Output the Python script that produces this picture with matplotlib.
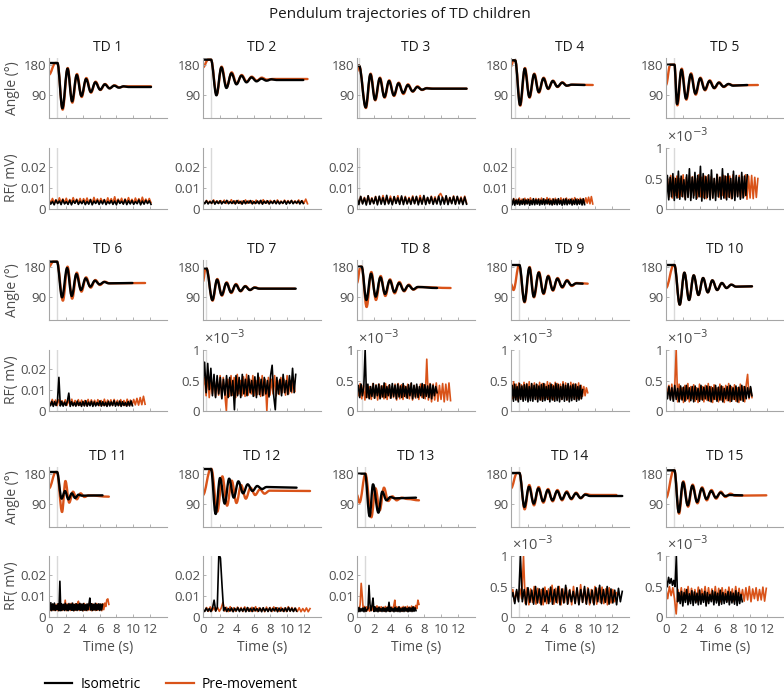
import numpy as np
import matplotlib.pyplot as plt
from matplotlib.lines import Line2D
from matplotlib.path import Path
from matplotlib.patches import PathPatch

plt.rcParams['font.family'] = ['Open Sans', 'DejaVu Sans']

# angle trajectories (deg): isometric (iso) and pre-movement (pre), turning points
TD1_ISO_T = [0, 1.0, 1.59, 2.2, 2.74, 3.29, 3.85, 4.4, 4.96, 5.5, 6.07, 6.62, 7.18, 7.73, 8.3, 8.85, 9.4, 12.1]
TD1_ISO_A = [185, 185, 49, 168, 70, 149, 86, 137, 98, 127, 105, 121, 109, 117, 111, 115, 113, 113]
TD1_PRE_T = [0, 0.75, 1.0, 1.62, 2.22, 2.77, 3.32, 3.88, 4.43, 4.99, 5.53, 6.1, 6.65, 7.21, 7.76, 8.33, 9.0, 12.1]
TD1_PRE_A = [150, 185, 185, 45, 170, 66, 152, 83, 140, 96, 129, 104, 122, 109, 118, 112, 115, 115]

TD2_ISO_T = [0, 0.95, 1.59, 2.18, 2.78, 3.37, 3.97, 4.56, 5.16, 5.75, 6.35, 6.94, 7.54, 8.13, 8.7, 11.9]
TD2_ISO_A = [195, 195, 88, 172, 110, 154, 121, 147, 127, 142, 130, 138, 132, 136, 134, 134]
TD2_PRE_T = [0, 0.6, 0.95, 1.62, 2.21, 2.81, 3.4, 4.0, 4.59, 5.19, 5.78, 6.38, 6.97, 7.57, 8.2, 12.4]
TD2_PRE_A = [172, 195, 195, 90, 174, 112, 157, 123, 149, 129, 144, 132, 141, 135, 137, 137]

TD3_ISO_T = [0, 0.25, 1.03, 1.59, 2.14, 2.7, 3.25, 3.8, 4.37, 4.92, 5.48, 6.03, 6.6, 7.15, 7.7, 8.25, 8.8, 13.0]
TD3_ISO_A = [177, 177, 52, 151, 75, 139, 83, 131, 88, 124, 95, 119, 100, 113, 105, 109, 108, 108]
TD3_PRE_T = [0, 0.25, 1.06, 1.62, 2.17, 2.73, 3.28, 3.83, 4.4, 4.95, 5.51, 6.06, 6.63, 7.18, 7.73, 8.3, 9.0, 13.0]
TD3_PRE_A = [160, 177, 50, 153, 73, 141, 81, 133, 86, 126, 92, 121, 99, 115, 104, 110, 108, 108]

TD4_ISO_T = [0, 0.5, 1.07, 1.63, 2.18, 2.74, 3.29, 3.85, 4.4, 4.96, 5.5, 6.07, 6.6, 7.2, 8.73]
TD4_ISO_A = [193, 193, 59, 168, 83, 151, 98, 139, 108, 131, 114, 126, 117, 120, 119]
TD4_PRE_T = [0, 0.3, 0.5, 1.1, 1.66, 2.21, 2.77, 3.32, 3.88, 4.43, 4.99, 5.53, 6.1, 6.65, 7.3, 9.7]
TD4_PRE_A = [175, 193, 193, 57, 170, 81, 153, 96, 141, 107, 132, 113, 127, 117, 120, 119]

TD5_ISO_T = [0, 1.0, 1.31, 1.83, 2.38, 2.94, 3.49, 4.05, 4.6, 5.16, 5.71, 6.27, 6.83, 7.4, 7.95, 9.64]
TD5_ISO_A = [180, 180, 62, 165, 78, 151, 93, 139, 105, 131, 110, 126, 114, 122, 117, 119]
TD5_PRE_T = [0, 0.5, 1.0, 1.35, 1.87, 2.42, 2.98, 3.53, 4.09, 4.64, 5.2, 5.75, 6.31, 6.87, 7.45, 8.0, 10.9]
TD5_PRE_A = [119, 180, 180, 58, 168, 75, 154, 90, 141, 103, 133, 109, 127, 113, 122, 118, 119]

TD6_ISO_T = [0, 0.95, 1.55, 2.15, 2.7, 3.25, 3.8, 4.35, 4.9, 5.45, 6.0, 6.55, 7.1, 9.9]
TD6_ISO_A = [195, 195, 88, 176, 92, 158, 110, 145, 120, 138, 127, 134, 130, 131]
TD6_PRE_T = [0, 0.5, 0.95, 1.65, 2.2, 2.75, 3.3, 3.85, 4.4, 4.95, 5.5, 6.05, 6.6, 7.2, 11.4]
TD6_PRE_A = [180, 195, 195, 78, 180, 84, 162, 105, 148, 117, 140, 125, 135, 130, 131]

TD7_ISO_T = [0, 0.4, 1.11, 1.67, 2.22, 2.78, 3.33, 3.89, 4.44, 5.0, 5.56, 6.1, 6.7, 11.0]
TD7_ISO_A = [175, 175, 80, 141, 95, 131, 103, 126, 107, 121, 110, 117, 114, 114]
TD7_PRE_T = [0, 0.3, 0.4, 1.14, 1.7, 2.25, 2.81, 3.36, 3.92, 4.47, 5.03, 5.6, 6.15, 6.75, 10.9]
TD7_PRE_A = [136, 175, 175, 78, 143, 93, 133, 101, 128, 106, 122, 110, 118, 114, 114]

TD8_ISO_T = [0, 0.55, 1.11, 1.67, 2.22, 2.78, 3.33, 3.89, 4.44, 5.0, 5.56, 6.1, 6.67, 7.2, 9.5]
TD8_ISO_A = [180, 180, 80, 159, 90, 148, 98, 139, 104, 131, 108, 124, 112, 119, 116]
TD8_PRE_T = [0, 0.4, 0.55, 1.14, 1.7, 2.25, 2.81, 3.36, 3.92, 4.47, 5.03, 5.6, 6.15, 6.7, 7.3, 11.1]
TD8_PRE_A = [131, 180, 180, 59, 164, 80, 152, 92, 142, 100, 134, 106, 126, 111, 119, 116]

TD9_ISO_T = [0, 1.0, 1.59, 2.18, 2.7, 3.29, 3.85, 4.4, 4.96, 5.5, 6.07, 6.63, 7.18, 7.75, 8.5]
TD9_ISO_A = [185, 185, 75, 177, 90, 162, 100, 151, 110, 144, 119, 138, 124, 130, 129]
TD9_PRE_T = [0, 0.3, 0.95, 1.62, 2.21, 2.73, 3.32, 3.88, 4.43, 4.99, 5.53, 6.1, 6.66, 7.21, 7.8, 9.1]
TD9_PRE_A = [128, 110, 185, 73, 179, 88, 164, 98, 153, 108, 146, 117, 140, 122, 131, 129]

TD10_ISO_T = [0, 1.0, 1.63, 2.18, 2.74, 3.29, 3.85, 4.4, 4.96, 5.5, 6.07, 6.63, 7.18, 7.75, 8.3, 10.2]
TD10_ISO_A = [185, 185, 66, 162, 80, 154, 95, 146, 103, 139, 110, 131, 116, 126, 120, 121]
TD10_PRE_T = [0, 0.9, 1.0, 1.63, 2.18, 2.74, 3.29, 3.85, 4.4, 4.96, 5.5, 6.07, 6.63, 7.18, 7.75, 8.3, 10.2]
TD10_PRE_A = [116, 185, 185, 66, 162, 80, 154, 95, 146, 103, 139, 110, 131, 116, 126, 120, 121]

TD11_ISO_T = [0, 0.95, 1.5, 1.9, 2.3, 2.7, 3.1, 3.5, 3.9, 6.35]
TD11_ISO_A = [185, 185, 105, 128, 103, 121, 107, 117, 114, 115]
TD11_PRE_T = [0, 0.8, 0.95, 1.55, 1.95, 2.4, 2.85, 3.3, 3.75, 4.2, 4.7, 7.1]
TD11_PRE_A = [136, 185, 185, 65, 158, 93, 126, 103, 121, 110, 115, 111]

TD12_ISO_T = [0, 0.95, 1.5, 2.02, 2.58, 3.1, 3.65, 4.2, 4.76, 5.3, 5.87, 6.43, 7.0, 7.55, 11.1]
TD12_ISO_A = [194, 194, 59, 167, 90, 165, 108, 157, 121, 148, 128, 143, 134, 140, 138]
TD12_PRE_T = [0, 0.9, 1.0, 1.7, 2.3, 2.86, 3.41, 3.97, 4.52, 5.08, 5.63, 6.19, 6.75, 7.3, 7.9, 12.7]
TD12_PRE_A = [116, 194, 194, 66, 172, 84, 159, 92, 146, 105, 138, 116, 133, 120, 129, 128]

TD13_ISO_T = [0, 0.95, 1.5, 1.9, 2.54, 3.0, 3.5, 3.97, 4.5, 7.0]
TD13_ISO_A = [180, 180, 52, 148, 63, 126, 100, 110, 106, 108]
TD13_PRE_T = [0, 0.3, 1.0, 1.7, 2.2, 2.7, 3.2, 3.7, 4.2, 4.7, 5.3, 6.0, 7.35]
TD13_PRE_A = [116, 93, 180, 49, 136, 70, 138, 98, 112, 100, 108, 104, 100]

TD14_ISO_T = [0, 1.0, 1.59, 2.14, 2.7, 3.25, 3.81, 4.37, 4.92, 5.48, 6.03, 6.59, 7.14, 7.7, 8.25, 8.8, 9.4, 13.2]
TD14_ISO_A = [182, 182, 80, 141, 90, 136, 97, 131, 100, 128, 103, 124, 105, 121, 107, 117, 113, 113]
TD14_PRE_T = [0, 0.7, 1.0, 1.62, 2.17, 2.73, 3.28, 3.84, 4.4, 4.95, 5.51, 6.06, 6.62, 7.17, 7.73, 8.28, 8.85, 9.5, 12.5]
TD14_PRE_A = [136, 182, 182, 73, 146, 85, 140, 93, 134, 97, 131, 100, 127, 103, 123, 106, 119, 116, 116]

TD15_ISO_T = [0, 1.0, 1.51, 2.02, 2.58, 3.13, 3.69, 4.25, 4.8, 5.36, 5.91, 6.47, 7.0, 7.6, 9.05]
TD15_ISO_A = [190, 190, 64, 154, 85, 144, 95, 136, 104, 128, 108, 123, 113, 116, 115]
TD15_PRE_T = [0, 0.9, 1.0, 1.55, 2.06, 2.62, 3.17, 3.73, 4.29, 4.84, 5.4, 5.95, 6.51, 7.05, 7.65, 8.2, 11.9]
TD15_PRE_A = [107, 190, 190, 60, 157, 81, 147, 91, 139, 100, 131, 105, 126, 110, 120, 114, 115]

# RF signal in microvolts (1e-3 mV), evenly spaced over each trial
TD1_ISO_RF = [4.0, 2.3, 3.6, 2.0, 4.2, 2.6, 3.8, 2.1, 4.4, 2.4,
              3.5, 2.2, 4.1, 2.0, 3.9, 2.7, 4.3, 2.2, 3.7, 2.5,
              4.0, 2.1, 3.6, 2.3, 4.4, 2.0, 3.8, 2.6, 4.1, 2.2,
              3.9, 2.4, 4.3, 2.1, 3.6, 2.5, 4.0, 2.2, 3.8, 2.0,
              4.2, 2.6, 3.7, 2.3, 4.4, 2.1, 3.9, 2.4, 4.0, 2.2,
              3.6, 2.5, 4.3, 2.0, 3.8, 2.3, 4.1, 2.6, 3.9, 2.2]
TD1_PRE_RF = [4.6, 2.8, 5.0, 3.0, 4.4, 2.7, 5.3, 3.1, 4.8, 2.9,
              5.1, 2.6, 4.5, 3.2, 5.4, 2.8, 4.7, 3.0, 5.0, 2.7,
              4.9, 3.1, 5.2, 2.9, 4.6, 2.6, 5.5, 3.0, 4.8, 2.8,
              5.0, 3.2, 4.5, 2.7, 5.3, 3.0, 4.9, 2.9, 5.8, 2.8,
              4.7, 3.1, 5.1, 2.6, 4.8, 3.0, 5.4, 2.9, 4.6, 2.7,
              5.2, 3.0, 4.9, 2.8, 5.6, 3.1, 4.7, 2.9, 5.0, 3.0]
TD2_ISO_RF = [3.6, 2.5, 3.9, 2.4, 3.5, 2.7, 4.0, 2.3, 3.7, 2.6,
              3.9, 2.4, 3.6, 2.8, 4.1, 2.5, 3.5, 2.6, 3.8, 2.4,
              4.0, 2.7, 3.6, 2.3, 3.9, 2.5, 3.7, 2.8, 4.0, 2.4,
              3.5, 2.6, 3.8, 2.5, 4.1, 2.3, 3.7, 2.7, 3.9, 2.4,
              3.6, 2.6, 4.0, 2.5, 3.8, 2.4, 3.5, 2.7, 3.9, 2.3,
              3.7, 2.6, 4.0, 2.5, 3.6, 2.8, 3.8, 2.4, 3.9, 2.6]
TD2_PRE_RF = [3.2, 2.7, 4.1, 2.8, 3.8, 2.6, 4.3, 2.9, 3.9, 2.7,
              4.0, 2.8, 4.2, 2.6, 3.8, 2.9, 4.4, 2.7, 3.9, 2.8,
              4.1, 2.6, 3.8, 2.9, 4.3, 2.7, 4.0, 2.8, 3.9, 2.6,
              4.2, 2.9, 3.8, 2.7, 4.4, 2.8, 4.0, 2.6, 4.1, 2.9,
              3.9, 2.7, 4.3, 2.8, 3.8, 2.6, 4.2, 2.9, 4.0, 2.7,
              4.1, 2.8, 3.9, 2.6, 4.3, 2.9, 4.0, 2.7, 4.7, 2.5]
TD3_ISO_RF = [5.5, 2.1, 6.0, 2.4, 5.2, 1.9, 6.3, 2.2, 5.0, 2.5,
              5.8, 2.0, 6.1, 2.3, 5.4, 2.1, 6.5, 2.4, 5.1, 2.0,
              5.9, 2.6, 5.3, 2.2, 6.2, 2.1, 5.6, 2.4, 5.0, 2.2,
              5.7, 2.5, 6.0, 2.0, 5.3, 2.3, 6.4, 2.1, 5.5, 2.6,
              5.8, 2.2, 5.1, 2.4, 6.1, 2.0, 5.6, 2.3, 6.3, 2.1,
              5.4, 2.5, 5.9, 2.2, 6.0, 2.4, 5.2, 2.1, 5.7, 2.3]
TD3_PRE_RF = [4.8, 2.6, 5.9, 2.8, 5.5, 2.5, 6.2, 2.9, 5.3, 2.7,
              6.0, 2.6, 5.7, 3.0, 6.4, 2.7, 5.4, 2.8, 6.1, 2.6,
              5.8, 2.9, 6.3, 2.7, 5.6, 2.8, 6.0, 2.6, 5.5, 2.9,
              6.2, 2.7, 5.7, 2.8, 6.4, 2.6, 5.9, 3.0, 5.4, 2.7,
              6.1, 2.8, 5.8, 2.6, 6.3, 7.4, 5.6, 2.9, 6.0, 2.7,
              5.5, 2.8, 6.2, 2.6, 5.9, 2.9, 5.7, 2.7, 6.1, 2.8]
TD4_ISO_RF = [4.5, 2.0, 4.8, 1.8, 4.2, 2.3, 4.6, 1.9, 4.0, 2.2,
              4.7, 2.0, 4.3, 2.4, 4.5, 1.8, 4.1, 2.1, 4.9, 2.0,
              4.4, 2.3, 4.6, 1.9, 4.2, 2.2, 4.8, 2.0, 4.3, 2.4,
              4.6, 2.1, 4.0, 1.9, 4.7, 2.2, 4.4, 2.0, 4.9, 2.3,
              4.1, 1.8, 4.5, 2.1, 4.8, 2.0, 4.3, 2.4, 4.6, 1.9,
              4.2, 2.2, 4.7, 2.0, 4.4, 2.3, 4.5, 1.9, 4.8, 2.1]
TD4_PRE_RF = [3.8, 2.6, 5.0, 2.8, 4.6, 2.5, 5.2, 2.9, 4.7, 2.7,
              5.1, 2.6, 4.8, 2.9, 5.3, 2.7, 4.6, 2.8, 5.0, 2.6,
              4.9, 2.8, 5.2, 2.7, 4.7, 2.9, 5.4, 2.6, 5.0, 2.8,
              4.8, 2.5, 5.1, 2.9, 4.6, 2.7, 5.3, 2.6, 4.9, 2.8,
              5.2, 2.7, 4.7, 2.9, 5.0, 2.6, 5.4, 2.8, 4.8, 2.7,
              5.1, 2.9, 4.9, 2.6, 5.3, 2.8, 5.6, 2.5, 5.9, 2.4]
TD5_ISO_RF = [0.10, 0.55, 0.15, 0.52, 0.20, 0.58, 0.14, 0.50, 0.18, 0.62,
              0.16, 0.54, 0.20, 0.48, 0.15, 0.56, 0.19, 0.66, 0.14, 0.52,
              0.18, 0.60, 0.16, 0.55, 0.20, 0.70, 0.13, 0.58, 0.17, 0.53,
              0.19, 0.56, 0.15, 0.64, 0.18, 0.50, 0.14, 0.57, 0.20, 0.52,
              0.16, 0.66, 0.18, 0.54, 0.15, 0.58, 0.19, 0.50, 0.17, 0.62,
              0.14, 0.55, 0.20, 0.52, 0.16, 0.60, 0.18, 0.54, 0.22, 0.56]
TD5_PRE_RF = [0.30, 0.50, 0.20, 0.55, 0.18, 0.52, 0.22, 0.54, 0.19, 0.50,
              0.21, 0.56, 0.18, 0.52, 0.20, 0.55, 0.19, 0.53, 0.22, 0.50,
              0.18, 0.56, 0.20, 0.52, 0.19, 0.54, 0.17, 0.55, 0.20, 0.53,
              0.18, 0.50, 0.21, 0.56, 0.19, 0.52, 0.22, 0.55, 0.18, 0.53,
              0.20, 0.54, 0.17, 0.56, 0.19, 0.52, 0.21, 0.55, 0.18, 0.53,
              0.20, 0.56, 0.16, 0.54, 0.18, 0.55, 0.17, 0.52, 0.19, 0.50]
TD6_ISO_RF = [4.0, 2.5, 4.6, 2.2, 4.4, 2.6, 4.8, 16.0, 2.4, 4.5,
              2.3, 4.2, 2.6, 4.7, 8.5, 2.2, 4.4, 2.5, 4.0, 2.3,
              4.7, 2.6, 4.1, 2.2, 4.5, 2.4, 4.9, 2.3, 4.2, 2.5,
              4.6, 2.2, 4.3, 2.4, 4.0, 2.6, 4.8, 2.3, 4.4, 2.5,
              4.1, 2.2, 4.6, 2.4, 4.3, 2.6, 4.9, 2.3, 4.2, 2.5,
              4.7, 2.2, 4.4, 2.6, 4.0, 2.3, 4.5, 2.4, 4.8, 2.5]
TD6_PRE_RF = [5.0, 2.7, 5.5, 2.9, 5.2, 2.6, 5.4, 3.0, 4.9, 2.8,
              5.3, 2.7, 5.1, 2.9, 5.6, 2.6, 5.0, 2.8, 5.4, 2.7,
              5.2, 2.9, 5.0, 2.6, 5.5, 2.8, 5.3, 2.7, 5.1, 2.9,
              5.4, 2.6, 5.0, 2.8, 5.6, 2.7, 5.2, 2.9, 5.3, 2.6,
              5.5, 2.8, 5.1, 2.7, 5.4, 2.9, 5.0, 2.6, 5.6, 2.8,
              5.2, 2.7, 5.5, 2.9, 6.0, 2.8, 6.4, 3.0, 7.0, 3.2]
TD7_ISO_RF = [0.45, 0.80, 0.30, 0.78, 0.35, 0.70, 0.25, 0.60, 0.22, 0.58,
              0.28, 0.55, 0.20, 0.52, 0.26, 0.58, 0.22, 0.55, 0.25, 0.50,
              0.02, 0.58, 0.25, 0.55, 0.22, 0.60, 0.28, 0.52, 0.25, 0.58,
              0.30, 0.50, 0.24, 0.56, 0.22, 0.62, 0.27, 0.52, 0.25, 0.55,
              0.28, 0.50, 0.23, 0.58, 0.75, 0.25, 0.02, 0.55, 0.28, 0.52,
              0.25, 0.60, 0.30, 0.50, 0.27, 0.58, 0.32, 0.70, 0.30, 0.60]
TD7_PRE_RF = [0.40, 0.55, 0.25, 0.60, 0.22, 0.50, 0.28, 0.55, 0.24, 0.52,
              0.26, 0.58, 0.22, 0.55, 0.28, 0.00, 0.52, 0.24, 0.58, 0.26,
              0.55, 0.22, 0.60, 0.28, 0.50, 0.25, 0.56, 0.24, 0.60, 0.26,
              0.52, 0.28, 0.58, 0.25, 0.50, 0.27, 0.55, 0.24, 0.58, 0.26,
              0.52, 0.00, 0.55, 0.26, 0.52, 0.28, 0.58, 0.25, 0.50, 0.27,
              0.55, 0.30, 0.52, 0.26, 0.58, 0.28, 0.50, 0.30, 0.55, 0.32]
TD8_ISO_RF = [0.30, 0.42, 0.22, 0.44, 0.25, 0.40, 1.00, 0.22, 0.44, 0.20,
              0.40, 0.24, 0.45, 0.21, 0.42, 0.25, 0.44, 0.20, 0.41, 0.23,
              0.46, 0.22, 0.40, 0.25, 0.43, 0.21, 0.45, 0.24, 0.42, 0.20,
              0.44, 0.23, 0.41, 0.22, 0.45, 0.24, 0.40, 0.21, 0.43, 0.25,
              0.46, 0.20, 0.42, 0.23, 0.44, 0.22, 0.40, 0.25, 0.45, 0.21,
              0.43, 0.24, 0.41, 0.22, 0.44, 0.20, 0.42, 0.25, 0.40, 0.30]
TD8_PRE_RF = [0.35, 0.25, 0.45, 0.20, 0.42, 0.18, 0.44, 0.22, 0.40, 0.19,
              0.45, 0.21, 0.43, 0.18, 0.44, 0.22, 0.41, 0.20, 0.45, 0.19,
              0.42, 0.21, 0.40, 0.22, 0.44, 0.18, 0.45, 0.20, 0.43, 0.19,
              0.41, 0.22, 0.44, 0.20, 0.45, 0.18, 0.42, 0.21, 0.40, 0.19,
              0.44, 0.22, 0.43, 0.20, 0.85, 0.18, 0.45, 0.15, 0.44, 0.18,
              0.46, 0.16, 0.42, 0.19, 0.45, 0.15, 0.44, 0.18, 0.46, 0.17]
TD9_ISO_RF = [0.20, 0.42, 0.16, 0.44, 0.18, 0.40, 0.15, 0.45, 0.19, 0.41,
              0.16, 0.43, 0.18, 0.44, 0.15, 0.40, 0.17, 0.45, 0.16, 0.42,
              0.19, 0.44, 0.15, 0.41, 0.18, 0.43, 0.16, 0.45, 0.17, 0.40,
              0.19, 0.42, 0.15, 0.44, 0.18, 0.41, 0.16, 0.45, 0.17, 0.43,
              0.15, 0.40, 0.19, 0.44, 0.16, 0.42, 0.18, 0.45, 0.15, 0.41,
              0.17, 0.43, 0.19, 0.44, 0.16, 0.40, 0.18, 0.42, 0.20, 0.35]
TD9_PRE_RF = [0.45, 0.20, 0.48, 0.22, 0.44, 0.18, 0.46, 0.21, 0.43, 0.19,
              0.47, 0.22, 0.45, 0.18, 0.48, 0.20, 0.44, 0.22, 0.46, 0.19,
              0.43, 0.21, 0.47, 0.18, 0.45, 0.20, 0.44, 0.22, 0.48, 0.19,
              0.46, 0.21, 0.43, 0.18, 0.47, 0.20, 0.45, 0.22, 0.44, 0.19,
              0.48, 0.21, 0.46, 0.18, 0.43, 0.20, 0.47, 0.22, 0.45, 0.19,
              0.44, 0.21, 0.46, 0.20, 0.42, 0.24, 0.40, 0.25, 0.38, 0.30]
TD10_ISO_RF = [0.35, 0.20, 0.40, 0.18, 0.38, 0.16, 0.42, 0.19, 0.37, 0.15,
               0.41, 0.18, 0.39, 0.16, 0.42, 0.20, 0.38, 0.17, 0.40, 0.15,
               0.41, 0.19, 0.37, 0.16, 0.42, 0.18, 0.39, 0.20, 0.41, 0.17,
               0.40, 0.15, 0.38, 0.19, 0.42, 0.16, 0.39, 0.18, 0.41, 0.15,
               0.37, 0.20, 0.40, 0.17, 0.42, 0.16, 0.38, 0.19, 0.41, 0.15,
               0.39, 0.18, 0.42, 0.16, 0.40, 0.20, 0.38, 0.22, 0.40, 0.25]
TD10_PRE_RF = [0.45, 0.25, 0.42, 0.20, 0.44, 0.18, 0.40, 1.00, 0.15, 0.44,
               0.20, 0.38, 0.14, 0.42, 0.18, 0.45, 0.15, 0.40, 0.20, 0.43,
               0.16, 0.38, 0.14, 0.44, 0.19, 0.40, 0.15, 0.42, 0.18, 0.45,
               0.16, 0.40, 0.14, 0.43, 0.19, 0.38, 0.15, 0.44, 0.18, 0.40,
               0.14, 0.42, 0.17, 0.45, 0.15, 0.40, 0.19, 0.43, 0.16, 0.38,
               0.14, 0.44, 0.18, 0.40, 0.15, 0.42, 0.60, 0.20, 0.38, 0.22]
TD11_ISO_RF = [6.5, 3.2, 6.8, 3.0, 6.2, 3.4, 6.6, 3.1, 5.5, 3.5,
               6.3, 3.0, 17.0, 3.0, 6.2, 3.4, 6.0, 3.1, 6.5, 3.3,
               5.8, 3.0, 6.4, 3.5, 6.1, 3.2, 6.6, 3.0, 5.9, 3.3,
               6.3, 3.1, 6.0, 3.4, 6.5, 3.2, 6.1, 3.0, 6.4, 3.3,
               5.8, 3.1, 6.2, 3.4, 6.0, 9.0, 3.3, 6.3, 3.1, 6.0,
               3.4, 6.5, 3.2, 6.0, 3.5, 6.3, 3.1, 6.1, 3.4, 6.0]
TD11_PRE_RF = [4.0, 3.0, 5.5, 3.2, 6.0, 3.1, 5.8, 3.3, 6.1, 3.0,
               5.7, 3.2, 6.0, 3.1, 5.9, 3.3, 8.0, 3.0, 6.2, 3.2,
               5.9, 3.1, 6.5, 3.3, 6.0, 3.0, 6.3, 3.2, 5.8, 7.5,
               3.1, 6.2, 3.3, 6.0, 3.0, 6.4, 3.2, 5.9, 3.1, 6.3,
               3.4, 6.0, 3.0, 6.2, 3.3, 5.8, 3.1, 6.4, 3.2, 6.0,
               3.3, 6.1, 3.0, 6.3, 3.5, 6.6, 5.0, 8.2, 8.6, 6.0]
TD12_ISO_RF = [3.5, 2.6, 4.2, 2.8, 4.0, 2.6, 4.3, 8.0, 2.8, 4.5,
               30.0, 28.0, 15.0, 3.0, 4.5, 2.6, 4.0, 2.8, 4.3, 2.5,
               4.1, 2.9, 4.4, 2.6, 4.0, 2.8, 4.2, 2.5, 4.5, 2.7,
               4.1, 2.6, 4.3, 2.9, 4.0, 2.7, 4.2, 2.5, 4.4, 2.8,
               4.0, 2.6, 4.3, 2.7, 4.1, 2.9, 4.4, 2.5, 4.2, 2.8,
               4.0, 2.6, 4.3, 2.7, 4.5, 2.8, 4.1, 2.6, 4.2, 2.8]
TD12_PRE_RF = [3.0, 2.8, 4.5, 2.7, 4.8, 3.0, 4.4, 2.9, 4.6, 2.7,
               4.2, 7.0, 2.8, 4.6, 2.6, 4.9, 2.9, 4.4, 2.7, 4.7,
               3.0, 4.5, 2.6, 4.8, 2.9, 4.3, 2.7, 4.6, 2.8, 4.9,
               2.6, 4.4, 2.9, 4.2, 2.5, 4.7, 2.8, 4.5, 2.6, 4.8,
               2.9, 4.4, 2.7, 4.6, 2.8, 4.3, 2.6, 4.9, 2.7, 4.5,
               2.8, 4.2, 2.6, 4.4, 2.5, 4.0, 2.6, 4.3, 2.5, 4.0]
TD13_ISO_RF = [3.0, 2.5, 4.5, 2.6, 4.0, 2.8, 4.3, 2.5, 4.6, 2.7,
               3.5, 4.0, 15.0, 6.0, 3.0, 5.5, 9.0, 2.6, 4.8, 2.7,
               4.2, 2.5, 4.6, 2.8, 4.0, 2.6, 4.5, 2.7, 4.2, 2.5,
               4.4, 2.8, 7.0, 2.6, 4.5, 2.8, 4.0, 2.5, 4.6, 2.7,
               4.2, 2.6, 4.8, 2.5, 4.0, 2.7, 4.4, 2.6, 4.6, 2.8,
               4.1, 2.5, 4.5, 2.7, 4.3, 2.6, 4.8, 2.7, 4.4, 3.0]
TD13_PRE_RF = [3.0, 4.5, 2.8, 6.0, 16.0, 10.0, 3.0, 5.0, 2.8, 4.8,
               3.0, 5.2, 2.7, 4.6, 3.1, 5.0, 2.8, 4.7, 3.0, 5.3,
               2.9, 4.8, 2.8, 4.9, 3.1, 4.6, 2.7, 5.0, 3.0, 4.8,
               2.9, 5.1, 2.8, 4.7, 3.0, 5.3, 8.0, 2.9, 4.8, 2.8,
               4.9, 3.1, 4.6, 2.7, 5.0, 3.0, 4.8, 2.9, 5.1, 2.8,
               4.7, 3.0, 5.2, 2.9, 4.9, 3.2, 5.5, 4.0, 8.0, 6.0]
TD14_ISO_RF = [0.30, 0.40, 0.22, 0.45, 0.25, 1.00, 0.25, 0.45, 0.20, 0.48,
               0.24, 0.44, 0.21, 0.50, 0.23, 0.46, 0.20, 0.47, 0.25, 0.43,
               0.22, 0.49, 0.21, 0.45, 0.24, 0.50, 0.20, 0.46, 0.23, 0.52,
               0.21, 0.44, 0.25, 0.42, 0.22, 0.48, 0.20, 0.45, 0.24, 0.50,
               0.21, 0.46, 0.23, 0.44, 0.20, 0.48, 0.25, 0.52, 0.22, 0.45,
               0.24, 0.50, 0.21, 0.46, 0.23, 0.44, 0.20, 0.47, 0.25, 0.42]
TD14_PRE_RF = [0.35, 0.45, 0.25, 0.42, 0.28, 0.46, 0.30, 1.00, 0.22, 0.48,
               0.20, 0.46, 0.24, 0.50, 0.21, 0.47, 0.23, 0.45, 0.20, 0.49,
               0.22, 0.46, 0.25, 0.52, 0.21, 0.47, 0.23, 0.50, 0.20, 0.46,
               0.24, 0.48, 0.22, 0.45, 0.20, 0.50, 0.23, 0.47, 0.21, 0.53,
               0.24, 0.46, 0.22, 0.48, 0.20, 0.45, 0.23, 0.50, 0.21, 0.47,
               0.24, 0.49, 0.22, 0.46, 0.20, 0.48, 0.23, 0.45, 0.25, 0.40]
TD15_ISO_RF = [0.62, 0.50, 0.65, 0.55, 0.63, 0.52, 0.60, 0.50, 1.00, 0.25,
               0.40, 0.22, 0.42, 0.18, 0.40, 0.24, 0.45, 0.20, 0.38, 0.22,
               0.43, 0.19, 0.41, 0.23, 0.39, 0.20, 0.44, 0.21, 0.38, 0.24,
               0.42, 0.18, 0.40, 0.22, 0.37, 0.25, 0.43, 0.20, 0.41, 0.23,
               0.39, 0.19, 0.44, 0.21, 0.40, 0.22, 0.38, 0.24, 0.42, 0.20,
               0.41, 0.23, 0.39, 0.21, 0.43, 0.19, 0.40, 0.22, 0.37, 0.25]
TD15_PRE_RF = [0.45, 0.30, 0.50, 0.35, 0.48, 0.30, 0.05, 0.45, 0.28, 0.48,
               0.25, 0.46, 0.30, 0.50, 0.26, 0.47, 0.28, 0.45, 0.25, 0.49,
               0.27, 0.46, 0.30, 0.50, 0.25, 0.48, 0.28, 0.46, 0.26, 0.50,
               0.27, 0.47, 0.25, 0.48, 0.30, 0.45, 0.26, 0.49, 0.28, 0.46,
               0.25, 0.50, 0.27, 0.47, 0.29, 0.45, 0.26, 0.48, 0.28, 0.50,
               0.25, 0.46, 0.30, 0.48, 0.27, 0.45, 0.28, 0.49, 0.26, 0.47]

# time of the grey marker line per subject (s)
RELEASE = [1.0, 0.95, 0.25, 0.5, 1.0, 0.95, 0.4, 0.55, 1.0, 1.0, 0.95, 0.95, 0.95, 1.0, 1.0]
# subjects whose RF axis is shown in units of 1e-3 mV
SMALL_RF = [5, 7, 8, 9, 10, 14, 15]

ISO_T = [TD1_ISO_T, TD2_ISO_T, TD3_ISO_T, TD4_ISO_T, TD5_ISO_T, TD6_ISO_T, TD7_ISO_T, TD8_ISO_T,
         TD9_ISO_T, TD10_ISO_T, TD11_ISO_T, TD12_ISO_T, TD13_ISO_T, TD14_ISO_T, TD15_ISO_T]
ISO_A = [TD1_ISO_A, TD2_ISO_A, TD3_ISO_A, TD4_ISO_A, TD5_ISO_A, TD6_ISO_A, TD7_ISO_A, TD8_ISO_A,
         TD9_ISO_A, TD10_ISO_A, TD11_ISO_A, TD12_ISO_A, TD13_ISO_A, TD14_ISO_A, TD15_ISO_A]
PRE_T = [TD1_PRE_T, TD2_PRE_T, TD3_PRE_T, TD4_PRE_T, TD5_PRE_T, TD6_PRE_T, TD7_PRE_T, TD8_PRE_T,
         TD9_PRE_T, TD10_PRE_T, TD11_PRE_T, TD12_PRE_T, TD13_PRE_T, TD14_PRE_T, TD15_PRE_T]
PRE_A = [TD1_PRE_A, TD2_PRE_A, TD3_PRE_A, TD4_PRE_A, TD5_PRE_A, TD6_PRE_A, TD7_PRE_A, TD8_PRE_A,
         TD9_PRE_A, TD10_PRE_A, TD11_PRE_A, TD12_PRE_A, TD13_PRE_A, TD14_PRE_A, TD15_PRE_A]
ISO_RF = [TD1_ISO_RF, TD2_ISO_RF, TD3_ISO_RF, TD4_ISO_RF, TD5_ISO_RF, TD6_ISO_RF, TD7_ISO_RF, TD8_ISO_RF,
          TD9_ISO_RF, TD10_ISO_RF, TD11_ISO_RF, TD12_ISO_RF, TD13_ISO_RF, TD14_ISO_RF, TD15_ISO_RF]
PRE_RF = [TD1_PRE_RF, TD2_PRE_RF, TD3_PRE_RF, TD4_PRE_RF, TD5_PRE_RF, TD6_PRE_RF, TD7_PRE_RF, TD8_PRE_RF,
          TD9_PRE_RF, TD10_PRE_RF, TD11_PRE_RF, TD12_PRE_RF, TD13_PRE_RF, TD14_PRE_RF, TD15_PRE_RF]

ORANGE = '#D95319'
SPINE = '#a6a6a6'
TXT = '#4d4d4d'
W, H = 784, 690

# layout in pixels
COL_LEFT = [49, 203, 357, 511, 666]
AX_W = 118
ANGLE_TOP = [58, 260, 467]
RF_TOP = [148, 350, 556]


def px_rect(left, top, w, h):
    return [left / W, 1 - (top + h) / H, w / W, h / H]


def style(ax, show_x):
    for s in ['top', 'right']:
        ax.spines[s].set_visible(False)
    for s in ['left', 'bottom']:
        ax.spines[s].set_color(SPINE)
        ax.spines[s].set_linewidth(0.8)
    ax.set_xlim(0, 14)
    ax.set_xticks(range(0, 13, 2))
    ax.tick_params(direction='in', length=2.5, width=0.6, colors=SPINE,
                   labelcolor=TXT, labelsize=9.5, pad=2)
    ax.tick_params(axis='x', labelbottom=show_x, pad=4)


def swing(ax, t, a, color):
    # smooth curve through the turning points, flat at each one
    verts = [(t[0], a[0])]
    codes = [Path.MOVETO]
    for k in range(1, len(t)):
        d = t[k] - t[k - 1]
        verts += [(t[k - 1] + 0.36 * d, a[k - 1]), (t[k] - 0.36 * d, a[k]), (t[k], a[k])]
        codes += [Path.CURVE4] * 3
    ax.add_patch(PathPatch(Path(verts, codes), fill=False, edgecolor=color, lw=1.7,
                           capstyle='round', joinstyle='round'))


fig = plt.figure(figsize=(W / 100, H / 100), dpi=100)

for i in range(15):
    row, col = divmod(i, 5)
    left = COL_LEFT[col]

    ax = fig.add_axes(px_rect(left, ANGLE_TOP[row], AX_W, 60))
    style(ax, False)
    ax.axvline(RELEASE[i], color='#d9d9d9', lw=1, zorder=0)
    swing(ax, PRE_T[i], PRE_A[i], ORANGE)
    swing(ax, ISO_T[i], ISO_A[i], 'black')
    ax.set_ylim(20, 200)
    ax.set_yticks([90, 180])
    ax.set_title(f'TD {i + 1}', fontsize=10, pad=5, color='#1a1a1a')

    ax2 = fig.add_axes(px_rect(left, RF_TOP[row], AX_W, 61))
    style(ax2, row == 2)
    ax2.axvline(RELEASE[i], color='#d9d9d9', lw=1, zorder=0)
    t_iso = np.linspace(0, ISO_T[i][-1], len(ISO_RF[i]))
    t_pre = np.linspace(0, PRE_T[i][-1], len(PRE_RF[i]))
    if (i + 1) in SMALL_RF:
        ax2.plot(t_pre, PRE_RF[i], color=ORANGE, lw=1.2)
        ax2.plot(t_iso, ISO_RF[i], color='black', lw=1.2)
        ax2.set_ylim(0, 1)
        ax2.set_yticks([0, 0.5, 1])
        ax2.set_yticklabels(['0', '0.5', '1'])
        ax2.text(0.01, 1.03, '×10$^{-3}$', transform=ax2.transAxes, ha='left', va='bottom',
                 fontsize=10.5, color=TXT)
    else:
        ax2.plot(t_pre, np.array(PRE_RF[i]) / 1000, color=ORANGE, lw=1.2)
        ax2.plot(t_iso, np.array(ISO_RF[i]) / 1000, color='black', lw=1.2)
        ax2.set_ylim(0, 0.029)
        ax2.set_yticks([0, 0.01, 0.02])
        ax2.set_yticklabels(['0', '0.01', '0.02'])
    if row == 2:
        ax2.set_xlabel('Time (s)', fontsize=10, color=TXT, labelpad=3)

for row in range(3):
    fig.text(12 / W, 1 - (ANGLE_TOP[row] + 30) / H, 'Angle (°)', rotation=90,
             ha='center', va='center', fontsize=10, color=TXT)
    fig.text(12 / W, 1 - (RF_TOP[row] + 30) / H, 'RF( mV)', rotation=90,
             ha='center', va='center', fontsize=10, color=TXT)

fig.text(0.51, 1 - 15 / H, 'Pendulum trajectories of TD children', ha='center', va='center',
         fontsize=11, color='#1a1a1a')

handles = [Line2D([], [], color='black', lw=1.6), Line2D([], [], color=ORANGE, lw=1.6)]
fig.legend(handles, ['Isometric', 'Pre-movement'], loc='center left',
           bbox_to_anchor=(32 / W, 1 - 684 / H), ncol=2, frameon=False, fontsize=10,
           handlelength=2.0, handletextpad=0.6, columnspacing=1.8)

fig.savefig('out.png', dpi=100)
